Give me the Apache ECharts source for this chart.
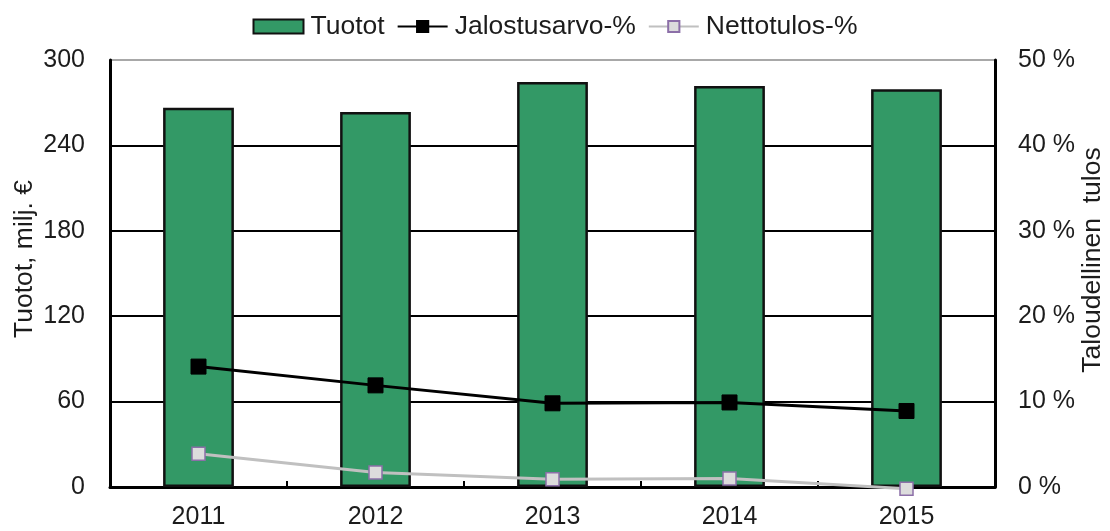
<!DOCTYPE html>
<html>
<head>
<meta charset="utf-8">
<script src="https://cdn.jsdelivr.net/npm/echarts@6/dist/echarts.min.js"></script>
<style>
	html, body {margin: 0; padding: 0; background: #fff;}
	#chart {width: 1110px; height: 531px;}
</style>
</head>
<body>
<div id="chart"></div>
<script>
	// vuodet ja arvot luettu kuvasta
	var years = ['2011', '2012', '2013', '2014', '2015'];
	var tuotot = [266.5, 263.5, 284.5, 281.7, 279.5];
	var jalostusarvo = [14.1, 11.9, 9.8, 9.9, 8.9];
	var nettotulos = [3.9, 1.7, 0.9, 1.0, -0.2];

	var font = '"Liberation Sans", Arial, sans-serif';
	var textColor = '#1c1c1c';
	var fontSize = 25;

	var chart = echarts.init(document.getElementById('chart'));
	chart.setOption({
		animation: false,
		textStyle: {fontFamily: font},
		legend: {
			top: 8,
			left: 'center',
			itemWidth: 50,
			itemHeight: 14,
			itemGap: 12,
			textStyle: {fontFamily: font, fontSize: 26.5, color: textColor, padding: [0, 0, 0, 2]},
			data: [{name: 'Tuotot', icon: 'rect'}, 'Jalostusarvo-%', 'Nettotulos-%']
		},
		grid: {left: 110, right: 115, top: 60, bottom: 44},
		xAxis: {
			type: 'category',
			data: years,
			axisLine: {lineStyle: {color: '#000', width: 3}},
			axisTick: {show: true, inside: true, length: 6, lineStyle: {color: '#000', width: 2}},
			axisLabel: {margin: 18, fontFamily: font, fontSize: fontSize, color: textColor}
		},
		yAxis: [
			{
				type: 'value',
				min: 0, max: 300, interval: 60,
				axisLine: {show: true, lineStyle: {color: '#000', width: 3}},
				axisTick: {show: false},
				axisLabel: {margin: 25, fontFamily: font, fontSize: fontSize, color: textColor},
				splitLine: {show: true, lineStyle: {color: ['#000', '#000', '#000', '#000', '#000', '#a8a8a8'], width: 2}}
			},
			{
				type: 'value',
				min: 0, max: 50, interval: 10,
				axisLine: {show: true, lineStyle: {color: '#000', width: 3}},
				axisTick: {show: false},
				axisLabel: {margin: 23, fontFamily: font, fontSize: fontSize, color: textColor, formatter: '{value} %'},
				splitLine: {show: false}
			}
		],
		graphic: [
			{
				type: 'text', x: 25, y: 259, rotation: Math.PI / 2,
				style: {text: 'Tuotot, milj. €', font: '26.5px ' + font, fill: textColor, align: 'center', verticalAlign: 'middle'}
			},
			{
				type: 'text', x: 1093, y: 260, rotation: Math.PI / 2,
				style: {text: 'Taloudellinen  tulos', font: '26.5px ' + font, fill: textColor, align: 'center', verticalAlign: 'middle'}
			}
		],
		series: [
			{
				name: 'Tuotot',
				type: 'bar',
				data: tuotot,
				barCategoryGap: '60%',
				itemStyle: {color: '#339966', borderColor: '#111', borderWidth: 2.5}
			},
			{
				name: 'Jalostusarvo-%',
				type: 'line',
				yAxisIndex: 1,
				data: jalostusarvo,
				symbol: 'rect',
				symbolSize: 15,
				clip: false,
				lineStyle: {color: '#000', width: 3},
				itemStyle: {color: '#000', borderColor: '#000', borderWidth: 1}
			},
			{
				name: 'Nettotulos-%',
				type: 'line',
				yAxisIndex: 1,
				data: nettotulos,
				symbol: 'rect',
				symbolSize: 13,
				clip: false,
				z: 3,
				lineStyle: {color: '#c0c0c0', width: 3},
				itemStyle: {color: '#dcdcdc', borderColor: '#8c6fa8', borderWidth: 1.5}
			}
		]
	});
</script>
</body>
</html>
